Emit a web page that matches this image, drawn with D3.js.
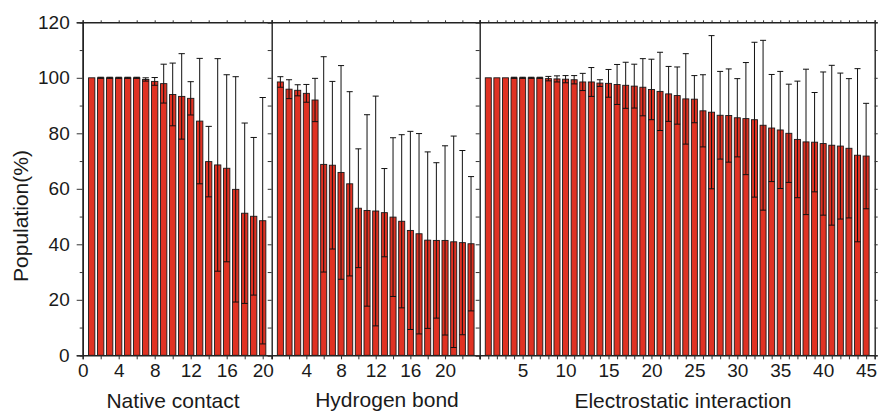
<!DOCTYPE html>
<html>
<head>
<meta charset="utf-8">
<script src="https://cdn.jsdelivr.net/npm/d3@7/dist/d3.min.js"></script>
<style>
  html, body { margin: 0; padding: 0; background: #fff; }
  svg { display: block; font-family: "Liberation Sans", Arial, Helvetica, sans-serif; }
</style>
</head>
<body>
<svg id="chart" width="879" height="412"></svg>
<script>
// Population (%) of each contact type, mean and standard deviation per index
const nativeValues = [100, 100, 100, 100, 100, 100, 99.4, 98.7, 97.9, 94.0, 93.3, 92.6, 84.4, 69.8, 68.6, 67.4, 59.8, 51.2, 50.1, 48.5];
const nativeErrors = [0, 0.2, 0.2, 0.2, 0.2, 0.2, 0.6, 1.4, 7.0, 11.3, 15.4, 6.0, 22.6, 12.7, 38.3, 33.7, 40.6, 32.5, 28.4, 44.4];

const hbondValues = [98.5, 95.9, 95.5, 94.4, 92.0, 68.8, 68.5, 65.9, 61.8, 53.0, 52.2, 52.0, 51.4, 49.8, 48.3, 45.0, 43.8, 41.5, 41.4, 41.4, 40.9, 40.6, 40.2];
const hbondErrors = [1.9, 3.4, 2.0, 3.2, 7.8, 38.8, 30.2, 38.5, 33.2, 21.4, 34.5, 41.4, 15.9, 28.6, 31.2, 35.7, 36.1, 31.8, 28.0, 34.1, 38.1, 33.2, 24.2];

const elecValues = [100, 100, 100, 100, 100, 100, 100, 99.7, 99.6, 99.5, 99.3, 98.5, 98.5, 98.1, 98.0, 97.6, 97.3, 97.0, 96.6, 95.8, 95.1, 94.2, 93.6, 92.4, 92.3, 88.1, 87.6, 86.5, 86.4, 85.6, 85.3, 84.9, 82.9, 81.9, 81.2, 80.0, 77.8, 76.9, 76.8, 76.3, 75.7, 75.4, 74.6, 72.1, 71.8];
const elecErrors = [0, 0, 0, 0.2, 0.2, 0.2, 0.2, 0.8, 1.1, 1.3, 1.5, 3.1, 5.2, 1.2, 5.0, 7.2, 8.3, 7.9, 10.3, 10.9, 14.1, 9.9, 10.3, 16.3, 8.5, 13.0, 27.6, 15.8, 16.8, 14.1, 20.2, 27.9, 30.6, 19.3, 21.1, 17.7, 21.0, 26.2, 17.9, 25.8, 28.8, 26.3, 25.1, 31.2, 19.0];

const panelTitles = ["Native contact", "Hydrogen bond", "Electrostatic interaction"];
const panelXMax = [21, 24, 46];
const nativeTickLabels = [0, 4, 8, 12, 16, 20];
const hbondTickLabels = [4, 8, 12, 16, 20];
const elecTickLabels = [5, 10, 15, 20, 25, 30, 35, 40, 45];
const yTickLabels = [0, 20, 40, 60, 80, 100, 120];
const yLabel = "Population(%)";

// Layout
const svg = d3.select("#chart");
const plotTop = 22.3, plotBottom = 355.3;
const panelLeft = [82.7, 271.7, 479.7];
const panelWidth = [189, 208, 395];
const titleX = [173, 387, 683];
const titleY = [408, 407, 408];
const barColor = "#e03223";

const y = d3.scaleLinear().domain([0, 120]).range([plotBottom, plotTop]);

const panels = [
  { values: nativeValues, errors: nativeErrors, labels: nativeTickLabels, minor: 2 },
  { values: hbondValues, errors: hbondErrors, labels: hbondTickLabels, minor: 2 },
  { values: elecValues, errors: elecErrors, labels: elecTickLabels, minor: 1 }
];

panels.forEach((p, i) => {
  const x0 = panelLeft[i], w = panelWidth[i];
  const x = d3.scaleLinear().domain([0, panelXMax[i]]).range([x0, x0 + w]);
  const step = x(1) - x(0);
  const bw = step * 0.7;
  const g = svg.append("g");
  const data = p.values.map((v, k) => ({ idx: k + 1, v, e: p.errors[k] }));

  // bars
  g.selectAll("rect.bar").data(data).join("rect")
    .attr("class", "bar")
    .attr("x", d => x(d.idx) - bw / 2)
    .attr("width", bw)
    .attr("y", d => y(d.v))
    .attr("height", d => y(0) - y(d.v))
    .attr("fill", barColor)
    .attr("stroke", "#1a1a1a")
    .attr("stroke-width", 0.9);

  // error bars
  const eb = g.selectAll("g.err").data(data.filter(d => d.e > 0)).join("g").attr("class", "err")
    .attr("stroke", "#111").attr("stroke-width", 1);
  eb.append("line")
    .attr("x1", d => x(d.idx)).attr("x2", d => x(d.idx))
    .attr("y1", d => y(d.v + d.e)).attr("y2", d => y(Math.max(0, d.v - d.e)));
  eb.append("line")
    .attr("x1", d => x(d.idx) - bw / 2).attr("x2", d => x(d.idx) + bw / 2)
    .attr("y1", d => y(d.v + d.e)).attr("y2", d => y(d.v + d.e));
  eb.append("line")
    .attr("x1", d => x(d.idx) - bw / 2).attr("x2", d => x(d.idx) + bw / 2)
    .attr("y1", d => y(d.v - d.e)).attr("y2", d => y(d.v - d.e));

  // bottom axis
  const tickVals = d3.range(0, panelXMax[i] + 0.001, p.minor).filter(t => t > 0 || i === 0);
  const xb = g.append("g").attr("transform", `translate(0,${plotBottom})`)
    .call(d3.axisBottom(x).tickValues(tickVals).tickSize(4)
      .tickFormat(t => p.labels.includes(t) ? String(t) : ""));
  // top axis
  const xt = g.append("g").attr("transform", `translate(0,${plotTop})`)
    .call(d3.axisTop(x).tickValues(tickVals).tickSize(2).tickFormat(""));

  // left axis
  const yl = g.append("g").attr("transform", `translate(${x0},0)`);
  if (i === 0) {
    yl.call(d3.axisLeft(y).tickValues(d3.range(10, 120, 20)).tickSize(3).tickFormat(""));
    const ylMaj = g.append("g").attr("transform", `translate(${x0},0)`)
      .call(d3.axisLeft(y).tickValues(yTickLabels).tickSize(6).tickPadding(7).tickFormat(d3.format("d")));
    ylMaj.selectAll("text").attr("font-size", 19).attr("fill", "#1a1a1a");
  } else {
    yl.call(d3.axisLeft(y).tickValues(d3.range(0, 121, 10)).tickSize(4).tickFormat(""));
  }
  if (i === 2) {
    g.append("g").attr("transform", `translate(${x0 + w},0)`)
      .call(d3.axisRight(y).tickValues(d3.range(0, 121, 10)).tickSize(3).tickFormat(""));
  }

  g.selectAll(".tick line").attr("stroke", "#333");
  xb.selectAll("text").attr("font-size", 19).attr("fill", "#1a1a1a").attr("dy", "0.75em");
  g.selectAll(".domain").attr("stroke", "#222").attr("stroke-width", 1.4);

  // panel title
  svg.append("text")
    .attr("x", titleX[i]).attr("y", titleY[i])
    .attr("text-anchor", "middle")
    .attr("font-size", 21)
    .attr("fill", "#1a1a1a")
    .text(panelTitles[i]);
});

// y axis title
svg.append("text")
  .attr("transform", "translate(28,216) rotate(-90)")
  .attr("text-anchor", "middle")
  .attr("font-size", 21)
  .attr("fill", "#1a1a1a")
  .text(yLabel);
</script>
</body>
</html>
